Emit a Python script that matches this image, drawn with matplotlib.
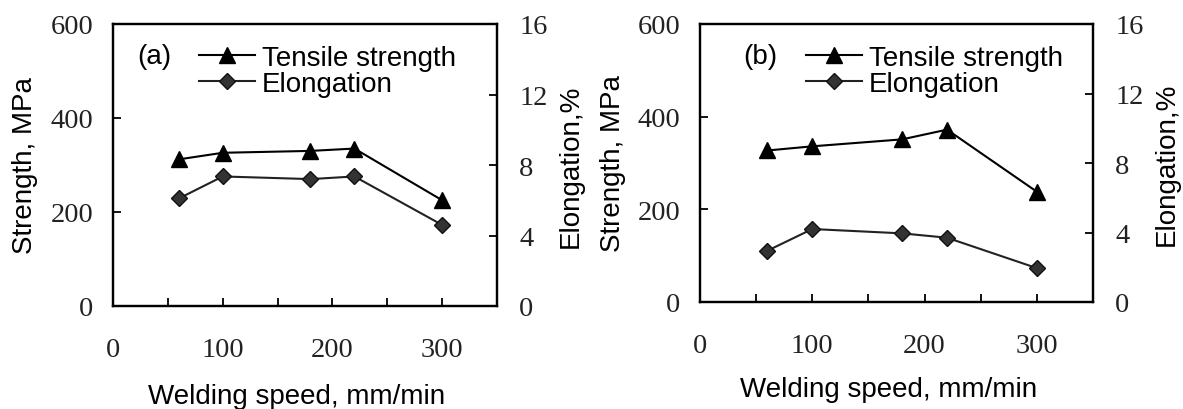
import matplotlib
matplotlib.use('Agg')
import matplotlib.pyplot as plt

speed = [60, 100, 180, 220, 300]

strength_a = [312, 326, 330, 335, 225]
elong_a = [6.1, 7.35, 7.2, 7.35, 4.6]

strength_b = [327, 336, 351, 372, 238]
elong_b = [2.95, 4.2, 3.95, 3.7, 1.95]

panel_tags = ['(a)', '(b)']

serif = 'Liberation Serif'
sans = 'Liberation Sans'

W, H = 1183, 410
fig = plt.figure(figsize=(W / 100, H / 100), dpi=100)


def panel(rect, strength, elong, tag, lab_x):
    # rect in pixel coords: left, top, right, bottom
    l, t, r, b = rect
    ax = fig.add_axes([l / W, 1 - b / H, (r - l) / W, (b - t) / H])
    ax2 = ax.twinx()

    ax.plot(speed, strength, color='black', lw=1.5, marker='^', ms=12,
            mfc='black', mec='black', label='Tensile strength', zorder=3)
    ax2.plot(speed, elong, color='#222222', lw=1.5, marker='D', ms=8.5,
             mfc='#333333', mec='#111111', label='Elongation', zorder=3)

    ax.set_xlim(0, 350)
    ax.set_ylim(0, 600)
    ax2.set_ylim(0, 16)

    ax.set_xticks([0, 50, 100, 150, 200, 250, 300])
    ax.set_xticklabels(['0', '', '100', '', '200', '', '300'])
    ax.set_yticks([0, 200, 400, 600])
    ax2.set_yticks([0, 4, 8, 12, 16])

    ax.tick_params(axis='x', direction='in', length=6, width=1.3, pad=22,
                   labelsize=20.5)
    ax.tick_params(axis='y', direction='in', length=6, width=1.3, pad=14,
                   labelsize=20.5)
    ax2.tick_params(axis='y', direction='in', length=6, width=1.3, pad=16,
                    labelsize=20.5)
    for a in (ax, ax2):
        for lbl in a.get_xticklabels() + a.get_yticklabels():
            lbl.set_fontfamily(serif)
            lbl.set_color('#222222')
        for s in a.spines.values():
            s.set_linewidth(1.6)

    # axis titles
    cy = (t + b) / 2
    fig.text(lab_x[0] / W, 1 - cy / H, 'Strength, MPa', rotation=90,
             ha='center', va='center', fontsize=20, family=sans)
    fig.text(lab_x[1] / W, 1 - cy / H, 'Elongation,%', rotation=90,
             ha='center', va='center', fontsize=20, family=sans)
    fig.text(((l + r) / 2 - 8) / W, 1 - lab_x[2] / H, 'Welding speed, mm/min',
             ha='center', va='center', fontsize=20, family=sans)

    ax.text(lab_x[3], 0.885, tag, transform=ax.transAxes, ha='left',
            va='center', fontsize=20, family=sans)

    h1, l1 = ax.get_legend_handles_labels()
    h2, l2 = ax2.get_legend_handles_labels()
    ax2.legend(h1 + h2, l1 + l2, loc='upper left',
               bbox_to_anchor=(lab_x[4], 0.925), frameon=False,
               borderpad=0, borderaxespad=0, handlelength=2.0,
               handletextpad=0.25, labelspacing=0.0,
               prop={'family': sans, 'size': 20})
    return ax, ax2


panel((113, 25, 497, 307), strength_a, elong_a, panel_tags[0],
      (25, 571, 397, 0.063, 0.224))
panel((700, 25, 1093, 303), strength_b, elong_b, panel_tags[1],
      (613, 1167, 390, 0.11, 0.27))

fig.savefig('out.png', dpi=100)
